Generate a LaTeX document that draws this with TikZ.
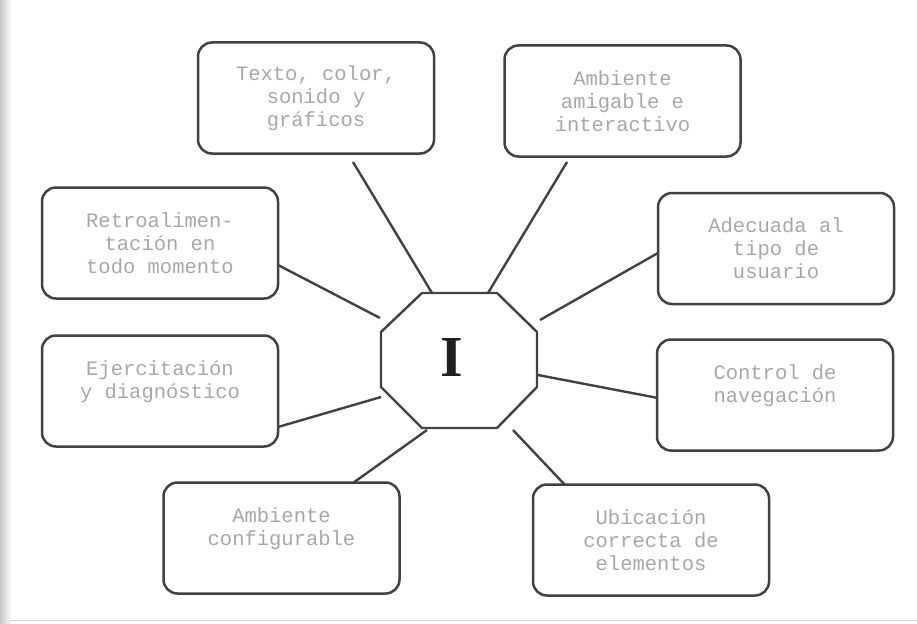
\documentclass[tikz,border=0pt]{standalone}
\usepackage{fontspec}
\newfontfamily\boxfont{Liberation Mono}
\newfontfamily\bigfont{Liberation Serif}
\begin{document}
\begin{tikzpicture}[x=1pt,y=-1pt,
  box/.style={draw=black!74, line width=2.5pt, rounded corners=14pt,
    minimum width=236pt, minimum height=111pt, inner sep=0pt, align=center,
    font=\boxfont\fontsize{20.5}{23}\selectfont, text=black!34},
  link/.style={draw=black!74, line width=2.4pt}]
\fill[white] (0,0) rectangle (917,623);
\useasboundingbox (0,0) rectangle (917,623);
\shade[left color=black!22, right color=white] (0,0) rectangle (12,623);
\draw[black!18, line width=1pt] (10,620) -- (917,620);

\node[box] (t) at (316,98) {Texto, color,\\sonido y\\gráficos};
\node[box] (a) at (622.5,101) {Ambiente\\amigable e\\interactivo};
\node[box] (r) at (160,243) {Retroalimen-\\tación en\\todo momento};
\node[box] (u) at (776,248.5) {Adecuada al\\tipo de\\usuario};
\node[box] (e) at (160,391) {Ejercitación\\y diagnóstico\\\mbox{}};
\node[box] (c) at (775,395) {Control de\\navegación\\\mbox{}};
\node[box] (g) at (281.5,538) {Ambiente\\configurable\\\mbox{}};
\node[box] (l) at (651,540) {Ubicación\\correcta de\\elementos};

\coordinate (o1) at (422,293);
\coordinate (o2) at (497,293);
\coordinate (o3) at (537,332);
\coordinate (o4) at (537,387);
\coordinate (o5) at (497,428);
\coordinate (o6) at (422,428);
\coordinate (o7) at (381,387);
\coordinate (o8) at (381,332);
\draw[link, line join=miter] (o1)--(o2)--(o3)--(o4)--(o5)--(o6)--(o7)--(o8)--cycle;
\node[font=\bigfont\bfseries\fontsize{58}{60}\selectfont, text=black!88, inner sep=0pt] (i) at (452,358) {I};

\coordinate (tA) at (353,162);  \coordinate (tB) at (432,293);
\coordinate (aA) at (567,162);  \coordinate (aB) at (488,293);
\coordinate (rA) at (278,265);  \coordinate (rB) at (380,318);
\coordinate (uA) at (658,253);  \coordinate (uB) at (540,320);
\coordinate (eA) at (278,427);  \coordinate (eB) at (381,397);
\coordinate (gA) at (353,483);  \coordinate (gB) at (427,430);
\coordinate (cA) at (658,398);  \coordinate (cB) at (538,375);
\coordinate (lA) at (565,485);  \coordinate (lB) at (513,430);

\draw[link] (tA) -- (tB);
\draw[link] (aA) -- (aB);
\draw[link] (rA) -- (rB);
\draw[link] (uA) -- (uB);
\draw[link] (eA) -- (eB);
\draw[link] (gA) -- (gB);
\draw[link] (cA) -- (cB);
\draw[link] (lA) -- (lB);
\end{tikzpicture}
\end{document}
